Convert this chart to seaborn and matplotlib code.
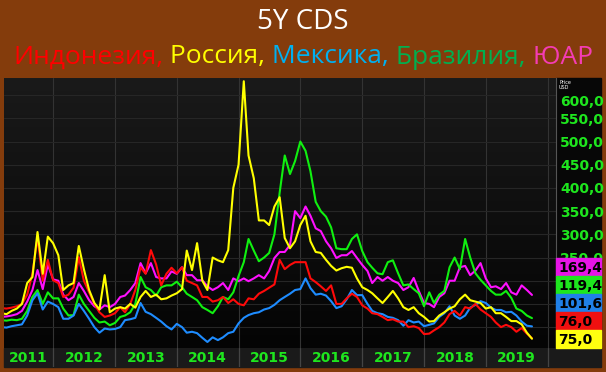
import numpy as np
import pandas as pd
import matplotlib
matplotlib.use('Agg')
import matplotlib.pyplot as plt
import matplotlib.dates as mdates
import matplotlib.transforms as mtransforms
from matplotlib.patches import Rectangle
from matplotlib.colors import LinearSegmentedColormap
import seaborn as sns

# monthly 5Y CDS levels, Mar 2011 .. Oct 2019
months = pd.date_range('2011-03-01', periods=104, freq='MS')

russia = [130, 128, 135, 140, 150, 195, 208, 305, 215, 295,
          281, 255, 180, 190, 195, 275, 225, 180, 152, 138, 212, 132,
          140, 143, 140, 150, 142, 165, 178, 165, 170, 160, 162, 168,
          173, 182, 265, 223, 281, 200, 180, 250, 244, 240, 266, 400,
          450, 630, 470, 421, 330, 330, 320, 360, 380, 292, 270, 285,
          320, 340, 285, 262, 260, 245, 232, 222, 227, 230, 228, 205,
          186, 180, 173, 162, 152, 165, 178, 162, 143, 137, 143, 130,
          122, 112, 113, 125, 132, 140, 145, 160, 170, 158, 155, 152,
          140, 143, 130, 130, 122, 113, 113, 106, 88, 75.0]

indonesia = [141, 140, 142, 145, 150, 170, 215, 294, 200, 245,
             201, 195, 165, 170, 185, 251, 200, 175, 150, 132, 122, 125,
             130, 143, 132, 150, 180, 229, 215, 266, 235, 190, 215, 228,
             216, 229, 200, 195, 190, 165, 165, 155, 158, 165, 152, 160,
             150, 147, 162, 160, 172, 178, 185, 192, 245, 225, 234, 240,
             240, 240, 205, 197, 188, 178, 190, 150, 150, 162, 172, 165,
             147, 140, 130, 128, 122, 115, 117, 112, 112, 100, 102, 98,
             85, 86, 93, 100, 110, 128, 135, 125, 143, 140, 150, 138,
             130, 122, 110, 100, 105, 100, 90, 98, 86, 76.0]

south_africa = [122, 123, 125, 128, 135, 155, 180, 223, 182, 235,
                203, 200, 170, 158, 165, 195, 178, 158, 145, 138, 147, 143,
                150, 165, 168, 180, 195, 238, 216, 238, 208, 205, 205, 220,
                215, 229, 212, 212, 201, 201, 188, 180, 186, 195, 180, 205,
                199, 205, 199, 205, 212, 205, 221, 249, 262, 262, 277, 350,
                335, 360, 340, 313, 307, 285, 270, 249, 255, 255, 264, 249,
                234, 221, 195, 208, 200, 208, 200, 195, 180, 186, 206, 178,
                152, 150, 143, 165, 173, 200, 200, 229, 232, 212, 222, 238,
                205, 186, 188, 182, 195, 175, 170, 190, 180, 169.4]

brazil = [115, 114, 116, 115, 118, 135, 165, 180, 150, 175,
          162, 162, 140, 125, 126, 170, 150, 135, 120, 110, 112, 104,
          109, 122, 125, 132, 150, 208, 186, 180, 168, 186, 190, 190,
          198, 186, 172, 165, 158, 143, 137, 130, 145, 165, 160, 175,
          210, 240, 290, 265, 242, 250, 260, 300, 390, 470, 430, 458,
          500, 480, 436, 370, 350, 338, 315, 270, 268, 268, 290, 300,
          264, 240, 228, 216, 214, 240, 244, 216, 190, 192, 182, 173,
          145, 175, 152, 170, 178, 229, 250, 225, 290, 250, 216, 202,
          190, 178, 170, 170, 178, 163, 140, 135, 125, 119.4]

mexico = [100, 99, 102, 104, 106, 125, 158, 173, 138, 155,
          150, 143, 118, 118, 125, 150, 135, 118, 100, 88, 97, 95,
          96, 100, 115, 117, 120, 152, 133, 128, 120, 112, 102, 95,
          107, 100, 88, 90, 87, 77, 68, 78, 72, 78, 87, 90,
          108, 120, 126, 130, 132, 138, 141, 148, 158, 165, 172, 180,
          182, 205, 184, 170, 172, 168, 156, 141, 145, 160, 180, 169,
          169, 150, 135, 130, 128, 122, 120, 115, 103, 115, 110, 112,
          102, 105, 108, 122, 130, 145, 125, 118, 125, 142, 148, 156,
          152, 142, 137, 137, 132, 133, 125, 112, 103, 101.6]

names = ['ЮАР', 'Бразилия', 'Мексика', 'Индонезия', 'Россия']
values = [south_africa, brazil, mexico, indonesia, russia]
line_colors = ['#FF10FF', '#10F010', '#1E8CFF', '#FF0A0A', '#FFFF00']
box_colors = ['#E614E6', '#1EE61E', '#2080E8', '#F01010', '#FFFF10']

title_parts = ['Индонезия,', ' Россия,', ' Мексика,', ' Бразилия,', ' ЮАР']
title_colors = ['#FF0000', '#FFFF00', '#00B0F0', '#00B050', '#F43CB4']

years = list(range(2011, 2020))
ygrid = list(range(100, 601, 50))
ylabels = list(range(250, 601, 50))

df = pd.concat([pd.DataFrame({'date': months, 'cds': v, 'country': n})
                for n, v in zip(names, values)], ignore_index=True)

sns.set_style('dark')
plt.rcParams['font.family'] = ['DejaVu Sans']

W, H = 606, 372
BROWN = '#843C0C'
GREEN = '#1EE61E'


def fx(px):
    return px / W


def fy(py):
    return 1 - py / H


fig = plt.figure(figsize=(W / 100, H / 100), dpi=100, facecolor=BROWN)

# black panel on the right (price scale) and bottom year band
fig.add_artist(Rectangle((fx(556), fy(348)), fx(601) - fx(556), fy(78) - fy(348),
                         transform=fig.transFigure, color='#070707', zorder=-2))
fig.add_artist(Rectangle((fx(4), fy(367)), fx(601) - fx(4), fy(348) - fy(367),
                         transform=fig.transFigure, color='#1a1a1a', zorder=-2))

pos = [fx(4), fy(348), fx(556) - fx(4), fy(78) - fy(348)]
xlim = (pd.Timestamp('2011-03-17'), pd.Timestamp('2020-02-20'))
ylim = (55, 637)

# gradient background
bg = fig.add_axes(pos)
bg.axis('off')
grad = np.linspace(1, 0, 256).reshape(-1, 1)
cmap = LinearSegmentedColormap.from_list('bg', ['#040404', '#1a1a1a'])
bg.imshow(grad, cmap=cmap, aspect='auto', extent=[0, 1, 0, 1])

ax = fig.add_axes(pos)
ax.set_facecolor('none')
sns.lineplot(data=df, x='date', y='cds', hue='country', hue_order=names,
             palette=line_colors, linewidth=1.5, legend=False, ax=ax)
ax.set_xlim(xlim)
ax.set_ylim(ylim)
ax.set_xlabel('')
ax.set_ylabel('')

ax.set_yticks(ygrid)
ax.set_yticklabels([f'{v:.1f}'.replace('.', ',') if v in ylabels else '' for v in ygrid])
ax.yaxis.tick_right()
ax.tick_params(axis='y', length=0, pad=3, labelcolor=GREEN, labelsize=10)
for lab in ax.get_yticklabels():
    lab.set_fontweight('bold')
# top label sits a little below its gridline, as on the terminal screen
top_lab = ax.get_yticklabels()[-1]
top_lab.set_transform(top_lab.get_transform() +
                      mtransforms.ScaledTranslation(0, -5 / 100, fig.dpi_scale_trans))

ax.xaxis.set_major_locator(mdates.YearLocator())
ax.xaxis.set_minor_locator(mdates.MonthLocator())
ax.tick_params(axis='x', which='both', labelbottom=False, color='#777777',
               length=2.5, width=0.6, direction='out')
ax.grid(axis='y', color='#262626', linewidth=0.8)
ax.grid(axis='x', which='major', color='#333333', linewidth=0.8)
for side in ['top', 'left', 'bottom']:
    ax.spines[side].set_visible(False)
ax.spines['right'].set_color('#555555')
ax.spines['right'].set_linewidth(0.8)

# year band
band = fig.add_axes([fx(4), fy(367), fx(556) - fx(4), fy(348) - fy(367)])
band.set_facecolor('none')
band.set_xlim(xlim)
band.set_ylim(0, 1)
band.axis('off')
for y in years + [2020]:
    band.axvline(pd.Timestamp(f'{y}-01-01'), color='#444444', linewidth=0.9)
for y in years:
    start = max(pd.Timestamp(f'{y}-01-01'), xlim[0])
    end = pd.Timestamp(f'{y + 1}-01-01')
    band.text(start + (end - start) / 2, 0.45, str(y), color=GREEN,
              fontsize=10, fontweight='bold', ha='center', va='center')

fig.text(fx(559), fy(82), 'Price', color='white', fontsize=3.5, va='center')
fig.text(fx(559), fy(87.5), 'USD', color='white', fontsize=3.5, va='center')

# last-value boxes, stacked by value
last = sorted([(v[-1], c) for v, c in zip(values, box_colors)], reverse=True)
for i, (val, col) in enumerate(last):
    top = 258 + i * 18
    fig.add_artist(Rectangle((fx(556), fy(top + 18)), fx(601) - fx(556), 18 / H,
                             transform=fig.transFigure, color=col, zorder=5))
    fig.text(fx(558), fy(top + 9.5), f'{val:.1f}'.replace('.', ','), color='black',
             fontsize=10, fontweight='bold', va='center', ha='left', zorder=6)

# titles
fig.text(0.5, fy(22), '5Y CDS', color='white', fontsize=20,
         family=['Open Sans', 'DejaVu Sans'], ha='center', va='center')

renderer = fig.canvas.get_renderer()
pieces = []
total = 0
for txt, col in zip(title_parts, title_colors):
    t = fig.text(0, fy(57), txt, color=col, fontsize=19,
                 family=['Open Sans', 'DejaVu Sans'], ha='left', va='center')
    w = t.get_window_extent(renderer=renderer).width
    pieces.append((t, w))
    total += w
x0 = (W - total) / 2
for t, w in pieces:
    t.set_x(x0 / W)
    x0 += w

fig.savefig('out.png', dpi=100, facecolor=BROWN)
